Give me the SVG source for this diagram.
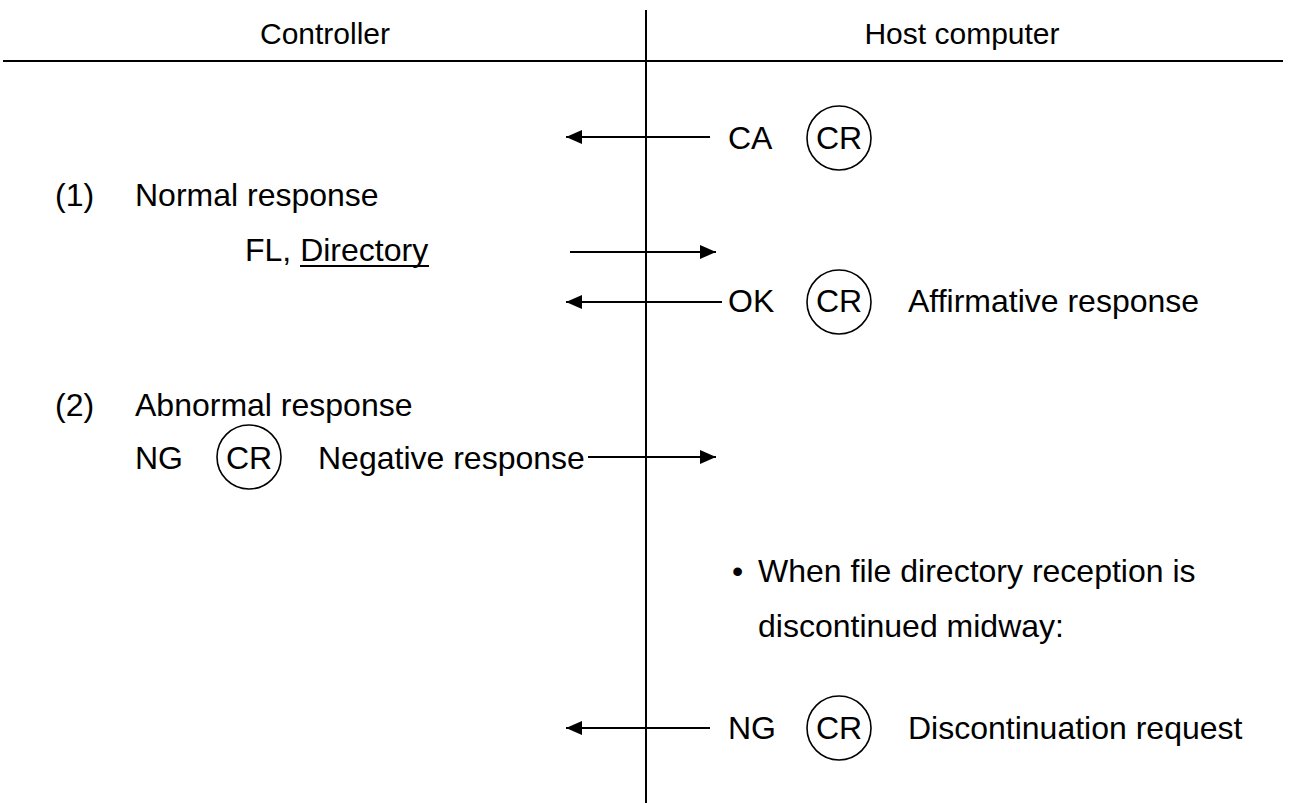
<svg xmlns="http://www.w3.org/2000/svg" width="1291" height="803" viewBox="0 0 1291 803">
<style>
text{font-family:"Liberation Sans",Arial,sans-serif;font-size:32px;fill:#000}
.h{text-anchor:middle;font-size:30px}
.ln{stroke:#000;stroke-width:2;fill:none}
.cr{stroke:#000;stroke-width:1.6;fill:none}
.ct{text-anchor:middle}
</style>
<defs>
<marker id="ah" viewBox="0 0 16 14" refX="16" refY="7" markerWidth="16" markerHeight="14" markerUnits="userSpaceOnUse" orient="auto">
<path d="M0,0 L16,7 L0,14 Z" fill="#000"/>
</marker>
</defs>
<rect width="1291" height="803" fill="#fff"/>
<g id="frame">
<line class="ln" x1="646" y1="10" x2="646" y2="803"/>
<line class="ln" x1="3" y1="61" x2="1283" y2="61" stroke-width="2.5"/>
<text class="h" x="325" y="44">Controller</text>
<text class="h" x="962" y="44">Host computer</text>
</g>
<g id="connectors">
<line class="ln" x1="710" y1="137" x2="566" y2="137" marker-end="url(#ah)"/>
<line class="ln" x1="570" y1="252" x2="716" y2="252" marker-end="url(#ah)"/>
<line class="ln" x1="722" y1="302" x2="566" y2="302" marker-end="url(#ah)"/>
<line class="ln" x1="588" y1="457" x2="716" y2="457" marker-end="url(#ah)"/>
<line class="ln" x1="710" y1="728" x2="566" y2="728" marker-end="url(#ah)"/>
</g>
<g id="msg-ca">
<text x="728" y="149">CA</text>
<circle class="cr" cx="839" cy="138" r="32"/>
<text class="ct" x="839" y="149">CR</text>
</g>
<g id="case1">
<text x="55" y="206">(1)</text>
<text x="135" y="206">Normal response</text>
</g>
<g id="msg-fl">
<text x="245" y="261">FL, Directory</text>
<line class="ln" x1="300" y1="266" x2="429" y2="266"/>
</g>
<g id="msg-ok">
<text x="728" y="312">OK</text>
<circle class="cr" cx="839" cy="302" r="32"/>
<text class="ct" x="839" y="312">CR</text>
<text x="908" y="312">Affirmative response</text>
</g>
<g id="case2">
<text x="55" y="416">(2)</text>
<text x="135" y="416">Abnormal response</text>
</g>
<g id="msg-ng1">
<text x="135" y="469">NG</text>
<circle class="cr" cx="249" cy="457" r="32"/>
<text class="ct" x="249" y="469">CR</text>
<text x="318" y="469">Negative response</text>
</g>
<g id="note">
<text x="732" y="582">•</text>
<text x="758" y="582">When file directory reception is</text>
<text x="758" y="637">discontinued midway:</text>
</g>
<g id="msg-ng2">
<text x="728" y="739">NG</text>
<circle class="cr" cx="839" cy="728" r="32"/>
<text class="ct" x="839" y="739">CR</text>
<text x="908" y="739">Discontinuation request</text>
</g>
</svg>
